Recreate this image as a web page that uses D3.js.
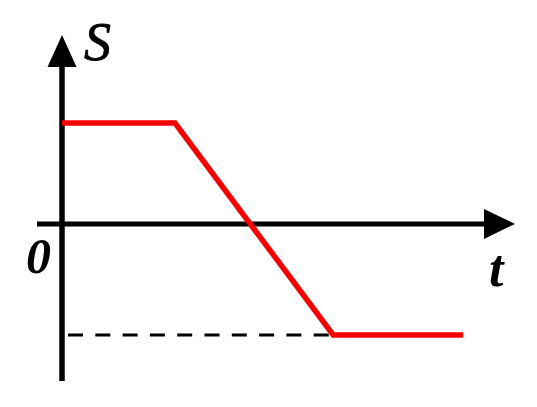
<!DOCTYPE html>
<html><head><meta charset="utf-8">
<script src="https://cdn.jsdelivr.net/npm/d3@7"></script>
<style>body{margin:0;background:#fff}svg{display:block}</style>
</head><body>
<script>
// Data: displacement-time graph
const times = [0, 2, 4.8, 7.1];
const displacements = [1, 1, -1.1, -1.1];
const axisLabels = {x: "t", y: "S", origin: "0"};

const W = 537, H = 407;
const x = d3.scaleLinear().domain([0, 8]).range([62, 514]);
const y = d3.scaleLinear().domain([-1.1, 1]).range([335, 123]);

const svg = d3.select("body").append("svg").attr("width", W).attr("height", H);

// axes
svg.append("line").attr("x1", x(0)).attr("x2", x(0)).attr("y1", 381).attr("y2", 60)
  .attr("stroke", "#000").attr("stroke-width", 5.5);
svg.append("path").attr("d", `M${x(0)},35 L${x(0)-14.5},67 L${x(0)+14.5},67 Z`).attr("fill", "#000");
svg.append("line").attr("x1", 37).attr("x2", 490).attr("y1", y(0)).attr("y2", y(0))
  .attr("stroke", "#000").attr("stroke-width", 5);
svg.append("path").attr("d", `M515,${y(0)} L484,${y(0)-15} L484,${y(0)+15} Z`).attr("fill", "#000");

// dashed guide
svg.append("line").attr("x1", x(0)+2).attr("x2", x(times[2])).attr("y1", y(displacements[2])).attr("y2", y(displacements[2]))
  .attr("stroke", "#000").attr("stroke-width", 3).attr("stroke-dasharray", "15,12.3").attr("stroke-dashoffset", 23.3);

// red line
const pts = times.map((t, i) => [x(t), y(displacements[i])]);
svg.append("path").attr("d", d3.line()(pts)).attr("fill", "none")
  .attr("stroke", "#f80000").attr("stroke-width", 5.5).attr("stroke-linejoin", "miter");

// labels
const font = "'Liberation Serif','Times New Roman',serif";
svg.append("text").attr("x", 84).attr("y", 60).text(axisLabels.y)
  .attr("font-family", font).attr("font-style", "italic").attr("font-weight", "normal").attr("font-size", 54)
  .attr("stroke", "#000").attr("stroke-width", 0.8);
svg.append("text").attr("x", 26).attr("y", 273).text(axisLabels.origin)
  .attr("font-family", font).attr("font-style", "italic").attr("font-weight", "bold").attr("font-size", 50);
svg.append("text").attr("x", 489).attr("y", 286).text(axisLabels.x)
  .attr("font-family", font).attr("font-style", "italic").attr("font-weight", "bold").attr("font-size", 52);
</script>
</body></html>
